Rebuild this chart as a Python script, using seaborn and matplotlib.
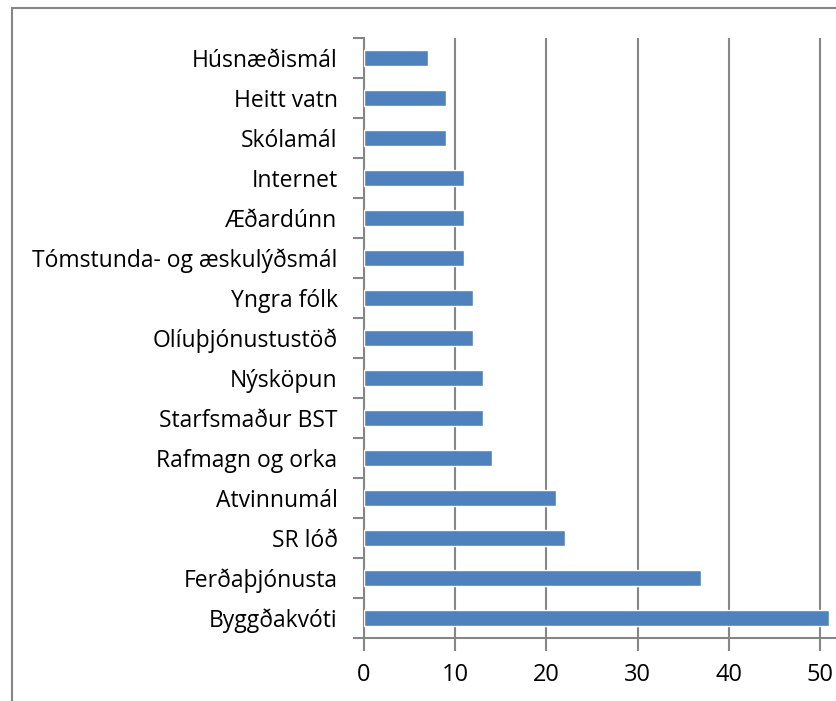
import numpy as np
import pandas as pd
import seaborn as sns
from matplotlib import pyplot as plt
from matplotlib.patches import Rectangle

# data (top to bottom)
categories = ["Húsnæðismál", "Heitt vatn", "Skólamál", "Internet", "Æðardúnn",
              "Tómstunda- og æskulýðsmál", "Yngra fólk", "Olíuþjónustustöð",
              "Nýsköpun", "Starfsmaður BST", "Rafmagn og orka", "Atvinnumál",
              "SR lóð", "Ferðaþjónusta", "Byggðakvóti"]
counts = [7, 9, 9, 11, 11, 11, 12, 12, 13, 13, 14, 21, 22, 37, 51]
xticks = [0, 10, 20, 30, 40, 50]

df = pd.DataFrame({"topic": categories, "count": counts})

sns.set_style("white")
plt.rcParams['font.family'] = ['Open Sans', 'DejaVu Sans']

W, H = 836, 701
fig = plt.figure(figsize=(W / 100, H / 100), dpi=100)
grey = "#868686"

# outer chart border (cropped on right/bottom)
fig.patches.append(Rectangle((12 / W, -0.1), 1.2, 1 - 8 / H + 0.1, transform=fig.transFigure,
                             fill=False, edgecolor=grey, linewidth=1.5, zorder=0))

ax = fig.add_axes([364 / W, 1 - 638 / H, 1 - 364 / W, 600 / H])
sns.barplot(data=df, y="topic", x="count", orient="h", color="#4F81BD",
            width=0.4, saturation=1, ax=ax, zorder=3)

ax.set_xlim(0, (W - 364) / 9.12)
ax.set_ylim(14.5, -0.5)
ax.set_xticks(xticks)
ax.set_xlabel("")
ax.set_ylabel("")

ax.grid(axis="x", color=grey, linewidth=1.5, zorder=0)
ax.set_axisbelow(True)
for s in ["top", "right"]:
    ax.spines[s].set_visible(False)
for s in ["left", "bottom"]:
    ax.spines[s].set_color(grey)
    ax.spines[s].set_linewidth(1.5)

# category boundary ticks on y, outward ticks on x
ax.set_yticks(np.arange(-0.5, 15, 1), minor=True)
ax.tick_params(axis="y", which="major", length=0, pad=19, labelsize=16.5, labelcolor="black")
ax.tick_params(axis="y", which="minor", length=8, width=1.5, color=grey, left=True)
ax.tick_params(axis="x", which="major", length=9, width=1.5, color=grey, bottom=True,
               pad=9, labelsize=17, labelcolor="black")

fig.savefig("out.png", dpi=100)
